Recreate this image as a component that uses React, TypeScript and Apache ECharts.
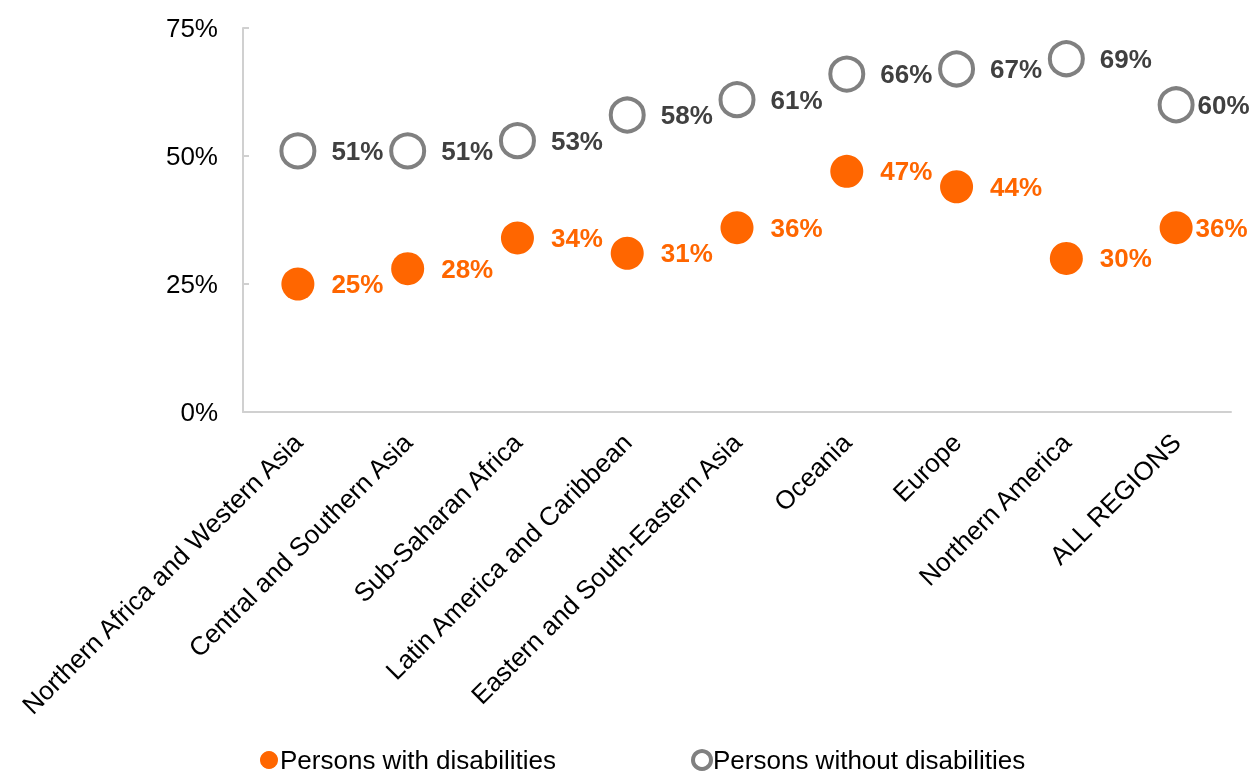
import React, { useEffect, useRef } from "react";
import * as echarts from "echarts";

const categories = [
  "Northern Africa and Western Asia",
  "Central and Southern Asia",
  "Sub-Saharan Africa",
  "Latin America and Caribbean",
  "Eastern and South-Eastern Asia",
  "Oceania",
  "Europe",
  "Northern America",
  "ALL REGIONS",
];
const withDisabilities = [25, 28, 34, 31, 36, 47, 44, 30, 36];
const withoutDisabilities = [51, 51, 53, 58, 61, 66, 67, 69, 60];
const yTicks = [0, 25, 50, 75];

const ORANGE = "#FF6600";
const GRAY = "#808080";
const FONT = "Liberation Sans, Arial, sans-serif";

export default function App() {
  const ref = useRef<HTMLDivElement>(null);
  useEffect(() => {
    if (!ref.current) return;
    const chart = echarts.init(ref.current, null, { renderer: "svg" });
    const lastIdx = categories.length - 1;
    const mkData = (vals: number[]) =>
      vals.map((v, i) =>
        i === lastIdx ? { value: v, label: { distance: 3 } } : { value: v }
      );
    chart.setOption({
      animation: false,
      textStyle: { fontFamily: FONT },
      grid: { left: 243, right: 18, top: 28, bottom: 362, containLabel: false },
      legend: {
        bottom: -4,
        left: 255,
        itemGap: 135,
        itemWidth: 18,
        itemHeight: 18,
        textStyle: { fontSize: 26, color: "#000", fontFamily: FONT, padding: [0, 0, 0, -3] },
        data: [
          {
            name: "Persons with disabilities",
            icon: "circle",
            itemStyle: { color: ORANGE, opacity: 1 },
          },
          {
            name: "Persons without disabilities",
            icon: "circle",
            itemStyle: { color: "#FFFFFF", borderColor: GRAY, borderWidth: 4, opacity: 1 },
          },
        ],
      },
      xAxis: {
        type: "category",
        data: categories,
        axisLine: { lineStyle: { color: "#D0D0D0", width: 2 } },
        axisTick: { show: false },
        axisLabel: {
          rotate: 45,
          interval: 0,
          margin: 26,
          fontSize: 26,
          color: "#000",
          fontFamily: FONT,
        },
      },
      yAxis: {
        type: "value",
        min: yTicks[0],
        max: yTicks[yTicks.length - 1],
        interval: 25,
        splitLine: { show: false },
        axisLine: { show: true, lineStyle: { color: "#D0D0D0", width: 2 } },
        axisTick: { show: true, inside: true, length: 6, lineStyle: { color: "#D0D0D0", width: 2 } },
        axisLabel: {
          formatter: "{value}%",
          fontSize: 26,
          color: "#000",
          margin: 25,
          fontFamily: FONT,
        },
      },
      series: [
        {
          name: "Persons with disabilities",
          type: "scatter",
          symbol: "circle",
          symbolSize: 33,
          itemStyle: { color: ORANGE, opacity: 1 },
          emphasis: { disabled: true },
          label: {
            show: true,
            position: "right",
            distance: 17,
            formatter: (p: any) => `${p.value}%`,
            fontSize: 26,
            fontWeight: "bold",
            color: ORANGE,
            fontFamily: FONT,
          },
          data: mkData(withDisabilities),
        },
        {
          name: "Persons without disabilities",
          type: "scatter",
          symbol: "circle",
          symbolSize: 33,
          itemStyle: { color: "#FFFFFF", borderColor: GRAY, borderWidth: 4, opacity: 1 },
          emphasis: { disabled: true },
          label: {
            show: true,
            position: "right",
            distance: 15,
            formatter: (p: any) => `${p.value}%`,
            fontSize: 26,
            fontWeight: "bold",
            color: "#404040",
            fontFamily: FONT,
          },
          data: mkData(withoutDisabilities),
        },
      ],
    });
    return () => chart.dispose();
  }, []);
  return (
    <div
      ref={ref}
      style={{ position: "fixed", left: 0, top: 0, width: 1249, height: 774 }}
    />
  );
}
